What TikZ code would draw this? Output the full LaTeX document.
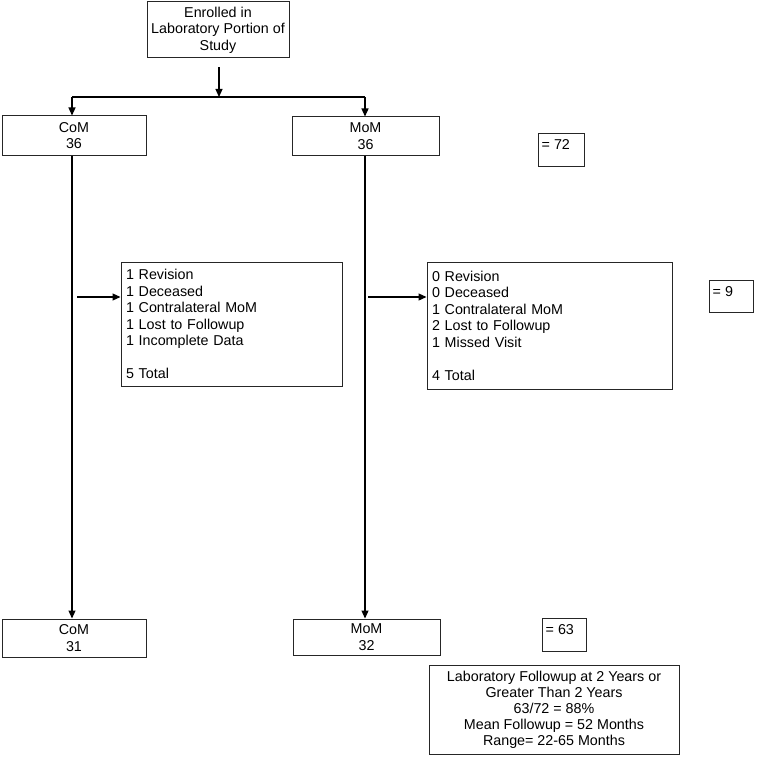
\documentclass[tikz,border=0pt]{standalone}
\usepackage{fontspec}
\setmainfont{Liberation Sans}
\usetikzlibrary{arrows.meta}
\begin{document}
\begin{tikzpicture}[x=1pt,y=-1pt,
  box/.style={draw=black!85, line width=1pt, inner sep=0pt, align=center,
    font=\fontsize{14.3}{16.5}\selectfont},
  listbox/.style={draw=black!85, line width=1pt, inner sep=5pt, align=left,
    font=\fontsize{14.3}{16.5}\selectfont},
  eqbox/.style={draw=black!85, line width=1pt, inner sep=0pt},
  eqlab/.style={anchor=north west, inner sep=0pt, xshift=4pt, yshift=-7pt,
    font=\fontsize{14.3}{16.5}\selectfont},
  conn/.style={line width=1.2pt},
  arr/.style={line width=1.2pt, -{Triangle[length=8pt,width=7pt]}}
]
\useasboundingbox (0,0) rectangle (765,765);

\node[box, minimum width=142, minimum height=56] (top) at (218,30)
  {Enrolled in\\Laboratory Portion of\\Study};
\node[box, minimum width=144, minimum height=39] (com1) at (74,135.5) {CoM\\36};
\node[box, minimum width=147, minimum height=38] (mom1) at (365.5,136) {MoM\\36};
\node[eqbox, minimum width=46, minimum height=33,
  label={[eqlab]north west:{= 72}}] (eq72) at (561,149.5) {};

\node[listbox, text width=211, minimum height=124] (midL) at (231.5,324)
  {1 Revision\\1 Deceased\\1 Contralateral MoM\\1 Lost to Followup\\1 Incomplete Data\\[16.5pt]5 Total};
\node[listbox, text width=235, minimum height=127] (midR) at (549.5,325.5)
  {0 Revision\\0 Deceased\\1 Contralateral MoM\\2 Lost to Followup\\1 Missed Visit\\[16.5pt]4 Total};
\node[eqbox, minimum width=44, minimum height=32,
  label={[eqlab]north west:{= 9}}] (eq9) at (731,296) {};

\node[box, minimum width=144, minimum height=38] (com2) at (74,638) {CoM\\31};
\node[box, minimum width=147, minimum height=36] (mom2) at (366.5,637) {MoM\\32};
\node[eqbox, minimum width=44, minimum height=33,
  label={[eqlab]north west:{= 63}}] (eq63) at (564,634.5) {};

\node[box, minimum width=250, minimum height=89,
  font=\fontsize{14.3}{16}\selectfont] (sum) at (554,709.5)
  {Laboratory Followup at 2 Years or\\Greater Than 2 Years\\63/72 = 88\%\\Mean Followup = 52 Months\\Range= 22-65 Months};

\coordinate (split) at (219,97);
\coordinate (L) at (72,97);
\coordinate (R) at (365,97);
\coordinate (aL) at (77,297);
\coordinate (aR) at (368,297);

\draw[arr, shorten <=9pt] (top.south -| split) -- (split);
\draw[conn] (L) -- (R);
\draw[arr] (L) -- (L |- com1.north);
\draw[arr] (R) -- (R |- mom1.north);
\draw[arr] (com1.south -| L) -- (com2.north -| L);
\draw[arr] (mom1.south -| R) -- (mom2.north -| R);
\draw[arr] (aL) -- (aL -| midL.west);
\draw[arr] (aR) -- (aR -| midR.west);
\end{tikzpicture}
\end{document}
